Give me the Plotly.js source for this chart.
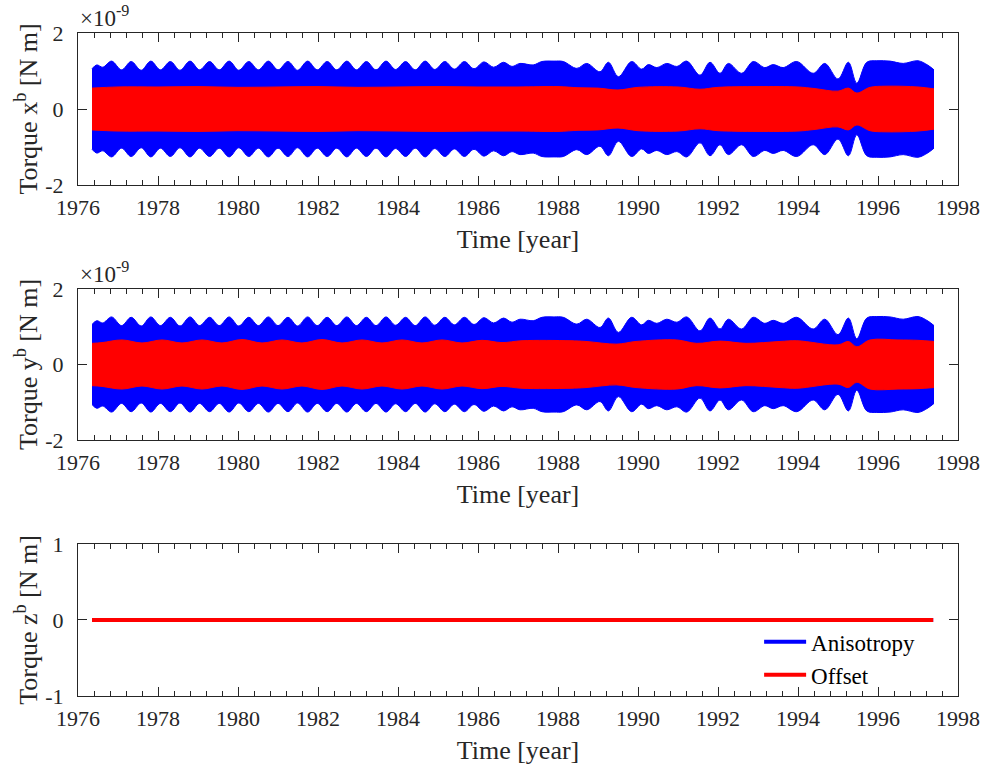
<!DOCTYPE html>
<html>
<head>
<meta charset="utf-8">
<script src="https://cdn.plot.ly/plotly-3.0.1.min.js"></script>
<style>html,body{margin:0;padding:0;background:#fff;}#chart{width:993px;height:771px;}</style>
</head>
<body>
<div id="chart"></div>
<script>
// ---- Data (torque envelopes, units of 1e-9 N m) ----
var xTicks = [1976, 1978, 1980, 1982, 1984, 1986, 1988, 1990, 1992, 1994, 1996, 1998];

// Anisotropy (blue) upper envelope, torque x^b and y^b
var blueT = [1976.35, 1976.47, 1976.62, 1976.84, 1977.09, 1977.33, 1977.58, 1977.82, 1978.06, 1978.31,
  1978.55, 1978.80, 1979.04, 1979.29, 1979.53, 1979.78, 1980.02, 1980.27, 1980.51, 1980.76,
  1981.00, 1981.25, 1981.49, 1981.74, 1981.98, 1982.23, 1982.47, 1982.72, 1982.96, 1983.21,
  1983.45, 1983.70, 1983.94, 1984.19, 1984.43, 1984.68, 1984.92, 1985.17, 1985.41, 1985.66,
  1985.90, 1986.15, 1986.39, 1986.64, 1986.85, 1987.05, 1987.38, 1987.60, 1987.90, 1988.13,
  1988.47, 1988.72, 1989.05, 1989.26, 1989.51, 1989.84, 1990.09, 1990.26, 1990.47, 1990.72,
  1990.97, 1991.22, 1991.55, 1991.80, 1992.05, 1992.26, 1992.59, 1992.88, 1993.17, 1993.38,
  1993.63, 1993.97, 1994.38, 1994.67, 1995.00, 1995.26, 1995.47, 1995.72, 1995.97, 1996.30,
  1996.63, 1997.00, 1997.25, 1997.40];
var blueTop = [1.06, 1.16, 1.10, 1.26, 1.03, 1.25, 1.02, 1.26, 1.03, 1.25,
  1.02, 1.26, 1.03, 1.25, 1.03, 1.26, 1.02, 1.25, 1.03, 1.26,
  1.03, 1.25, 1.02, 1.26, 1.03, 1.25, 1.03, 1.26, 1.03, 1.25,
  1.03, 1.26, 1.04, 1.25, 1.03, 1.26, 1.04, 1.25, 1.05, 1.25,
  1.06, 1.24, 1.10, 1.23, 1.12, 1.20, 1.16, 1.25, 1.26, 1.25,
  1.07, 1.20, 0.98, 1.23, 0.85, 1.25, 1.05, 1.17, 1.09, 1.20,
  1.12, 1.26, 0.89, 1.23, 0.94, 1.20, 0.94, 1.25, 1.09, 1.17,
  1.09, 1.25, 0.94, 1.20, 0.79, 1.23, 0.68, 1.23, 1.27, 1.26,
  1.20, 1.27, 1.15, 1.03];

// Offset (red) upper envelope, torque x^b
var redT1 = [1976.35, 1977.0, 1978.0, 1979.0, 1980.0, 1981.0, 1982.0, 1983.0, 1984.0, 1985.0,
  1986.0, 1987.0, 1988.0, 1988.5, 1989.0, 1989.5, 1990.0, 1991.0, 1991.55, 1992.0,
  1993.0, 1994.0, 1994.4, 1995.0, 1995.26, 1995.47, 1995.8, 1996.2, 1997.0, 1997.4];
var redTop1 = [0.55, 0.58, 0.58, 0.59, 0.57, 0.58, 0.59, 0.57, 0.58, 0.59,
  0.58, 0.58, 0.59, 0.56, 0.55, 0.50, 0.57, 0.58, 0.52, 0.57,
  0.59, 0.58, 0.54, 0.47, 0.55, 0.42, 0.57, 0.60, 0.58, 0.53];

// Offset (red) upper envelope, torque y^b
var redT2 = [1976.35, 1976.6, 1977.1, 1977.6, 1978.1, 1978.6, 1979.1, 1979.6, 1980.1, 1980.6,
  1981.1, 1981.6, 1982.1, 1982.6, 1983.1, 1983.6, 1984.1, 1984.6, 1985.1, 1985.6,
  1986.1, 1986.6, 1987.1, 1988.3, 1988.7, 1989.47, 1989.95, 1990.97, 1991.47, 1992.05,
  1992.7, 1993.55, 1993.97, 1995.0, 1995.26, 1995.47, 1995.8, 1996.5, 1997.0, 1997.4];
var redTop2 = [0.56, 0.58, 0.65, 0.57, 0.65, 0.57, 0.65, 0.57, 0.66, 0.57,
  0.65, 0.57, 0.66, 0.57, 0.65, 0.57, 0.65, 0.57, 0.65, 0.57,
  0.64, 0.58, 0.63, 0.63, 0.61, 0.54, 0.61, 0.65, 0.56, 0.62,
  0.56, 0.61, 0.63, 0.52, 0.61, 0.47, 0.65, 0.65, 0.64, 0.61];

// Torque z^b: both contributions are zero over the whole span
var zT = [1976.35, 1997.38];
var zAniso = [0, 0];
var zOffset = [0, 0];

// ---- Build traces ----
function neg(a) { return a.map(function (v) { return -v; }); }
var BLUE = '#0000FF', RED = '#FF0000', INK = '#262626';
var FONT = 'Liberation Serif, Times New Roman, serif';

function band(t, top, color, xa, ya) {
  return [
    {x: t, y: neg(top), mode: 'lines', line: {width: 1, color: color, shape: 'spline'},
     showlegend: false, hoverinfo: 'skip', xaxis: xa, yaxis: ya},
    {x: t, y: top, mode: 'lines', line: {width: 1, color: color, shape: 'spline'},
     fill: 'tonexty', fillcolor: color, showlegend: false, hoverinfo: 'skip', xaxis: xa, yaxis: ya}
  ];
}

var data = [].concat(
  band(blueT, blueTop, BLUE, 'x', 'y'),
  band(redT1, redTop1, RED, 'x', 'y'),
  band(blueT, blueTop, BLUE, 'x2', 'y2'),
  band(redT2, redTop2, RED, 'x2', 'y2'),
  [
    {x: zT, y: zAniso, name: 'Anisotropy', mode: 'lines', line: {color: BLUE, width: 4},
     xaxis: 'x3', yaxis: 'y3'},
    {x: zT, y: zOffset, name: 'Offset', mode: 'lines', line: {color: RED, width: 4},
     xaxis: 'x3', yaxis: 'y3'}
  ]
);

function xAxis(anchor) {
  return {
    anchor: anchor, range: [1976, 1998], tickvals: xTicks, ticktext: xTicks.map(String),
    ticks: 'inside', ticklen: 9, tickwidth: 1, tickcolor: INK, showline: true, linecolor: INK,
    linewidth: 1, mirror: 'ticks', showgrid: false, zeroline: false, ticklabelstandoff: 3,
    tickfont: {family: FONT, size: 22, color: INK},
    minor: {tick0: 1976, dtick: 0.4, ticks: 'inside', ticklen: 5, tickcolor: INK, showgrid: false},
    title: {text: 'Time [year]', font: {family: FONT, size: 26, color: INK}, standoff: 10}
  };
}
function yAxis(anchor, dom, lim, label) {
  var tv = [-lim, 0, lim];
  return {
    anchor: anchor, domain: dom, range: [-lim, lim], tickvals: tv,
    ticktext: tv.map(function (v) { return String(v); }),
    ticks: 'inside', ticklen: 9, tickwidth: 1, tickcolor: INK, showline: true, linecolor: INK,
    linewidth: 1, mirror: 'ticks', showgrid: false, zeroline: false, ticklabelstandoff: 9,
    tickfont: {family: FONT, size: 22, color: INK},
    title: {text: label, font: {family: FONT, size: 26, color: INK}, standoff: 0}
  };
}

var layout = {
  width: 993, height: 771,
  margin: {l: 78, r: 35, t: 33, b: 75},
  paper_bgcolor: '#fff', plot_bgcolor: '#fff',
  font: {family: FONT, color: INK},
  xaxis: xAxis('y'), xaxis2: xAxis('y2'), xaxis3: xAxis('y3'),
  yaxis: yAxis('x', [0.7707, 1], 2, 'Torque x<sup>b</sup> [N m]'),
  yaxis2: yAxis('x2', [0.3861, 0.6139], 2, 'Torque y<sup>b</sup> [N m]'),
  yaxis3: yAxis('x3', [0, 0.2293], 1, 'Torque z<sup>b</sup> [N m]'),
  showlegend: true,
  legend: {x: 0.774, xanchor: 'left', y: 0.114, yanchor: 'top', bgcolor: 'rgba(0,0,0,0)',
    traceorder: 'normal', font: {family: FONT, size: 23, color: '#000'}, tracegroupgap: 0,
    itemwidth: 42},
  annotations: [
    {text: '×10<sup>-9</sup>', xref: 'paper', yref: 'paper', x: 0, y: 1, xanchor: 'left',
     yanchor: 'bottom', xshift: 0, yshift: 0, showarrow: false,
     font: {family: FONT, size: 23, color: INK}},
    {text: '×10<sup>-9</sup>', xref: 'paper', yref: 'paper', x: 0, y: 0.6139, xanchor: 'left',
     yanchor: 'bottom', xshift: 0, yshift: 0, showarrow: false,
     font: {family: FONT, size: 23, color: INK}}
  ]
};

Plotly.newPlot('chart', data, layout, {displayModeBar: false, staticPlot: true});
</script>
</body>
</html>
